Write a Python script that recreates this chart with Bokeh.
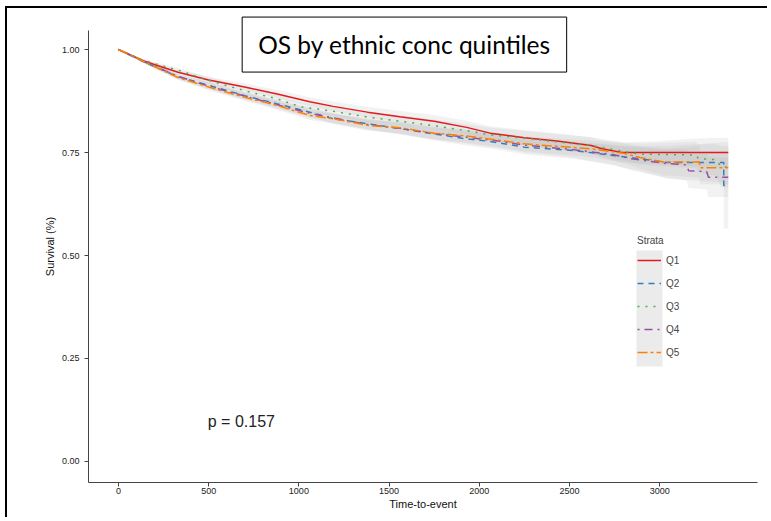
from bokeh.plotting import figure
from bokeh.models import (Range1d, FixedTicker, Legend, LegendItem, Label,
                          BoxAnnotation, PrintfTickFormatter)
from bokeh.embed import file_html
from bokeh.resources import INLINE

# ---- data ----
strata = ["Q1", "Q2", "Q3", "Q4", "Q5"]
colors = ["#E41A1C", "#377EB8", "#4DAF4A", "#984EA3", "#FF7F00"]
dashes = ["solid", "6 5", "2 6", "2 5 8 5", "10 3 3 3"]

q1_t = [0, 140, 330, 500, 700, 880, 1060, 1190, 1380, 1560, 1750, 1930, 2060, 2250, 2430, 2620, 2680, 2790, 3000, 3200, 3380]
q1_s = [1.0, 0.972, 0.945, 0.926, 0.909, 0.892, 0.873, 0.862, 0.848, 0.837, 0.826, 0.811, 0.797, 0.786, 0.778, 0.767, 0.759, 0.75, 0.75, 0.75, 0.75]
q1_hw = [0.0, 0.004, 0.006, 0.008, 0.009, 0.010, 0.011, 0.012, 0.013, 0.014, 0.015, 0.016, 0.017, 0.018, 0.019, 0.020, 0.021, 0.024, 0.028, 0.034, 0.036]

q2_t = [0, 140, 330, 500, 700, 880, 1060, 1190, 1380, 1560, 1750, 1930, 2060, 2250, 2520, 2740, 2890, 3040, 3355, 3355, 3380]
q2_s = [1.0, 0.970, 0.934, 0.913, 0.888, 0.868, 0.848, 0.832, 0.820, 0.808, 0.795, 0.783, 0.777, 0.763, 0.755, 0.743, 0.735, 0.726, 0.726, 0.670, 0.670]
q2_hw = [0.0, 0.004, 0.006, 0.008, 0.009, 0.010, 0.011, 0.012, 0.013, 0.014, 0.015, 0.016, 0.017, 0.018, 0.020, 0.024, 0.030, 0.040, 0.048, 0.105, 0.105]

q3_t = [0, 140, 330, 500, 700, 880, 1010, 1190, 1380, 1560, 1750, 1930, 2060, 2250, 2430, 2620, 2820, 2890, 3200, 3215, 3300, 3320, 3340, 3380]
q3_s = [1.0, 0.973, 0.950, 0.925, 0.900, 0.880, 0.861, 0.850, 0.836, 0.826, 0.815, 0.803, 0.793, 0.785, 0.776, 0.767, 0.751, 0.746, 0.744, 0.735, 0.733, 0.728, 0.715, 0.715]
q3_hw = [0.0, 0.004, 0.006, 0.008, 0.009, 0.010, 0.011, 0.012, 0.013, 0.014, 0.015, 0.016, 0.017, 0.018, 0.019, 0.020, 0.022, 0.026, 0.032, 0.034, 0.038, 0.040, 0.050, 0.050]

q4_t = [0, 140, 330, 500, 700, 880, 1060, 1190, 1380, 1560, 1750, 1930, 2120, 2250, 2520, 2740, 2840, 3040, 3150, 3160, 3260, 3270, 3380]
q4_s = [1.0, 0.971, 0.935, 0.911, 0.887, 0.866, 0.845, 0.834, 0.818, 0.809, 0.796, 0.787, 0.777, 0.768, 0.757, 0.745, 0.735, 0.723, 0.720, 0.706, 0.704, 0.690, 0.690]
q4_hw = [0.0, 0.004, 0.006, 0.008, 0.009, 0.010, 0.011, 0.012, 0.013, 0.014, 0.015, 0.016, 0.017, 0.018, 0.020, 0.024, 0.028, 0.034, 0.038, 0.042, 0.044, 0.048, 0.048]

q5_t = [0, 140, 330, 500, 700, 880, 1060, 1190, 1380, 1560, 1750, 1930, 2120, 2250, 2620, 2800, 2890, 3020, 3220, 3225, 3380]
q5_s = [1.0, 0.971, 0.932, 0.909, 0.884, 0.864, 0.840, 0.832, 0.816, 0.810, 0.797, 0.790, 0.779, 0.771, 0.759, 0.748, 0.738, 0.727, 0.727, 0.713, 0.713]
q5_hw = [0.0, 0.004, 0.006, 0.008, 0.009, 0.010, 0.011, 0.012, 0.013, 0.014, 0.015, 0.016, 0.017, 0.018, 0.020, 0.023, 0.027, 0.032, 0.038, 0.040, 0.040]

x_ticks = [0, 500, 1000, 1500, 2000, 2500, 3000]
y_ticks = [0.0, 0.25, 0.5, 0.75, 1.0]
title_text = "OS by ethnic conc quintiles"
pval_text = "p = 0.157"

series = [(q1_t, q1_s, q1_hw), (q2_t, q2_s, q2_hw), (q3_t, q3_s, q3_hw),
          (q4_t, q4_s, q4_hw), (q5_t, q5_s, q5_hw)]

# ---- figure ----
p = figure(width=762, height=511, output_backend="svg", toolbar_location=None,
           x_range=Range1d(-166, 3542), y_range=Range1d(-0.051, 1.0947),
           min_border_left=81, min_border_right=12, min_border_top=2,
           min_border_bottom=37)
# slide frame line (left and top edges)
p.styles = {"margin-left": "5px", "margin-top": "6px",
            "border-left": "2px solid black", "border-top": "2px solid black"}
p.outline_line_color = None
p.grid.visible = False
p.background_fill_color = "white"

for ax in (p.xaxis[0], p.yaxis[0]):
    ax.axis_line_color = "#444444"
    ax.axis_line_width = 1
    ax.major_tick_line_color = "#444444"
    ax.major_tick_out = 4
    ax.major_tick_in = 0
    ax.minor_tick_line_color = None
    ax.major_label_text_font = "Liberation Sans"
    ax.major_label_text_font_size = "9px"
    ax.major_label_text_color = "#222222"
    ax.axis_label_text_font = "Liberation Sans"
    ax.axis_label_text_font_size = "11px"
    ax.axis_label_text_font_style = "normal"
    ax.axis_label_text_color = "#111111"

p.yaxis.bounds = (-0.051, 1.046)
p.xaxis.ticker = FixedTicker(ticks=x_ticks)
p.yaxis.ticker = FixedTicker(ticks=y_ticks)
p.yaxis.formatter = PrintfTickFormatter(format="%.2f")
p.xaxis.axis_label = "Time-to-event"
p.yaxis.axis_label = "Survival (%)"
p.xaxis.major_label_standoff = 1
p.xaxis.axis_label_standoff = 1
p.yaxis.axis_label_standoff = 3

# confidence bands
for t, s, hw in series:
    lo = [a - b for a, b in zip(s, hw)]
    hi = [a + b for a, b in zip(s, hw)]
    p.varea(x=t, y1=lo, y2=hi, fill_color="#b0b0b0", fill_alpha=0.16)

# legend key background (frame-relative screen units)
p.add_layout(BoxAnnotation(left=548, right=574, top=232, bottom=116,
                           left_units="screen", right_units="screen",
                           top_units="screen", bottom_units="screen",
                           fill_color="#ebebeb", fill_alpha=1.0,
                           line_color=None, level="underlay"))

items = []
for (t, s, hw), name, c, d in zip(series, strata, colors, dashes):
    r = p.line(x=t, y=s, line_color=c, line_width=1.5, line_dash=d)
    items.append(LegendItem(label=name, renderers=[r]))

legend = Legend(items=items, title="Strata", location=(549, 120),
                title_text_font="Liberation Sans", title_text_font_size="10px",
                title_text_font_style="normal",
                label_text_font="Liberation Sans", label_text_font_size="10px",
                glyph_width=24, glyph_height=20, label_height=20, spacing=3,
                padding=0, margin=0, label_standoff=5, title_standoff=4,
                background_fill_alpha=0, border_line_color=None)
p.add_layout(legend)

p.add_layout(Label(x=495, y=0.097, text=pval_text, text_baseline="middle",
                   text_font="Liberation Sans", text_font_size="16px",
                   text_color="#222222"))

p.add_layout(Label(x=1585, y=1.012, text=title_text, text_align="center",
                   text_baseline="middle", text_font="Lato",
                   text_font_size="24.5px", text_color="black",
                   border_line_color="black", border_line_width=1,
                   background_fill_color="white", padding=(16, 13)))

open("out.html", "w").write(file_html(p, INLINE))
